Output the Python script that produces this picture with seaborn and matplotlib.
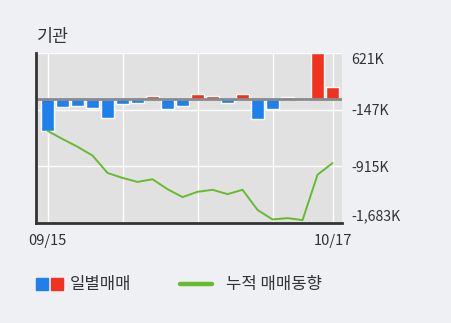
import matplotlib
matplotlib.use("Agg")
import matplotlib.pyplot as plt
from matplotlib.patches import Rectangle
from matplotlib.lines import Line2D
import seaborn as sns
import pandas as pd

# ---- data (values in thousands of shares) ----
dates = ["09/15", "09/16", "09/17", "09/18", "09/19", "09/22", "09/23", "09/24",
         "09/25", "09/26", "09/29", "09/30", "10/01", "10/02", "10/10", "10/13",
         "10/14", "10/15", "10/16", "10/17"]
daily = [-434, -112, -103, -126, -260, -76, -58, 44, -139, -103,
         71, 35, -58, 62, -273, -139, 21, -10, 615, 165]
cumulative = [-434, -545, -650, -769, -1005, -1072, -1126, -1090, -1225, -1332,
              -1260, -1233, -1292, -1233, -1506, -1635, -1617, -1644, -1028, -871]
ytick_values = [621, -147, -915, -1683]
ytick_labels = ["621K", "-147K", "-915K", "-1,683K"]
xtick_dates = ["09/15", "10/17"]
grid_dates = ["09/15", "09/22", "09/29", "10/13", "10/17"]

BLUE = "#1f80ec"
RED = "#f0321e"
GREEN = "#66bb2e"
FIG_BG = "#eef0f4"
AX_BG = "#e1e1e1"
TEXT = "#333333"

sns.set_theme(style="white")
plt.rcParams["font.family"] = ["Noto Sans CJK KR", "DejaVu Sans"]

W, H = 451, 323
fig = plt.figure(figsize=(W / 100, H / 100), dpi=100, facecolor=FIG_BG)
L, R, T, B = 36, 342, 53, 223
ax = fig.add_axes([L / W, 1 - B / H, (R - L) / W, (B - T) / H])
ax.set_facecolor(AX_BG)

idx = list(range(len(dates)))
df = pd.DataFrame({"x": idx, "daily": daily,
                   "sign": ["pos" if v >= 0 else "neg" for v in daily]})

# grid
for d in grid_dates:
    ax.axvline(dates.index(d), color="white", lw=1.0, zorder=0.5)
for v in ytick_values:
    ax.axhline(v, color="white", lw=1.0, zorder=0.5)

sns.barplot(data=df, x="x", y="daily", hue="sign",
            palette={"pos": RED, "neg": BLUE}, native_scale=True,
            width=0.87, dodge=False, legend=False, errorbar=None,
            saturation=1, ax=ax, zorder=2)
ax.axhline(0, color="#8a8a8a", lw=2.0, zorder=3)
sns.lineplot(x=idx, y=cumulative, color=GREEN, lw=1.4, ax=ax, zorder=4)

ax.set_xlim(-0.77, 19.63)
ax.set_ylim(-1683, 621)

ax.yaxis.tick_right()
ax.set_yticks(ytick_values)
ax.set_yticklabels(ytick_labels)
ax.tick_params(axis="y", length=0, pad=7, labelsize=10.2, colors=TEXT)
labs = ax.get_yticklabels()
labs[0].set_va("top")
labs[-1].set_va("bottom")
ax.set_xticks([dates.index(d) for d in xtick_dates])
ax.set_xticklabels(xtick_dates)
ax.tick_params(axis="x", length=0, pad=8, labelsize=10.5, colors=TEXT)
ax.set_xlabel("")
ax.set_ylabel("")

for s in ["top", "right"]:
    ax.spines[s].set_visible(False)
for s in ["left", "bottom"]:
    ax.spines[s].set_color("#333333")
    ax.spines[s].set_linewidth(2)
    ax.spines[s].set_zorder(5)

fig.text(37 / W, 1 - 37 / H, "기관", fontsize=12.5, color=TEXT, ha="left", va="center")

# legend
fig.patches.append(Rectangle((36 / W, 1 - 290 / H), 12 / W, 12 / H,
                             transform=fig.transFigure, color=BLUE))
fig.patches.append(Rectangle((51 / W, 1 - 290 / H), 12 / W, 12 / H,
                             transform=fig.transFigure, color=RED))
fig.text(70 / W, 1 - 284 / H, "일별매매", fontsize=12, color=TEXT, ha="left", va="center")
fig.lines.append(Line2D([180 / W, 212 / W], [1 - 284 / H, 1 - 284 / H],
                        transform=fig.transFigure, color=GREEN, lw=3.2))
fig.text(226 / W, 1 - 284 / H, "누적 매매동향", fontsize=12, color=TEXT, ha="left", va="center")

fig.savefig("out.png", dpi=100, facecolor=FIG_BG)
